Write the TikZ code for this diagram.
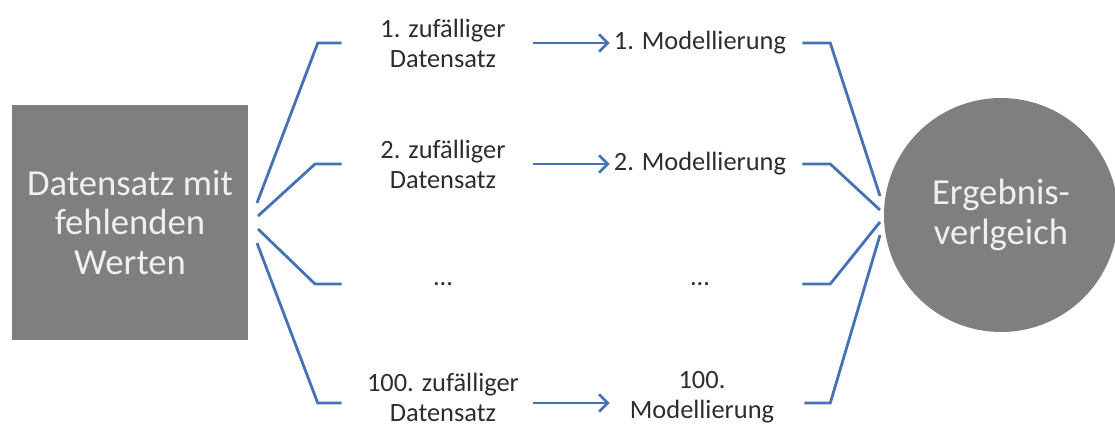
\documentclass[tikz,border=0pt]{standalone}
\usepackage{fontspec}
\setmainfont{Carlito}
\usetikzlibrary{arrows.meta}

\definecolor{boxgray}{RGB}{127,127,127}
\definecolor{linkblue}{RGB}{68,114,180}
\definecolor{textgray}{RGB}{45,45,45}

\tikzset{
  link/.style={linkblue, line width=2.1pt},
  flow/.style={link, -{Straight Barb[length=6.5pt,width=13pt,line width=2.1pt]}},
  set/.style={text=textgray, font=\fontsize{19.8}{22.5}\selectfont, align=center,
    inner sep=0pt, minimum width=151.5pt},
  model/.style={set, minimum width=153pt},
  big/.style={text=white!94!black, font=\fontsize{27.5}{29.5}\selectfont, align=center,
    fill=boxgray, inner sep=0pt},
}

\begin{document}
\begin{tikzpicture}[x=0.75pt,y=0.75pt,yscale=-1,xscale=1]
\useasboundingbox (0,0) rectangle (1115,428);

% start and end shapes
\node (data) [big, minimum width=177pt, minimum height=176pt] at (130,222.5)
  {Datensatz mit\\fehlenden\\Werten};
\node (cmp) [big, circle, minimum size=175.5pt] at (1001,215)
  {Ergebnis-\\verlgeich};

% random data sets
\node (d1) [set] at (443,43) {1. zufälliger\\Datensatz};
\node (d2) [set] at (443,164) {2. zufälliger\\Datensatz};
\node (d3) [set] at (443,284) {...};
\node (d4) [set] at (443,397) {100. zufälliger\\Datensatz};

% models
\node (m1) [model] at (700,43) {1. Modellierung};
\node (m2) [model] at (700,164) {2. Modellierung};
\node (m3) [model] at (700,284) {...};
\node (m4) [model] at (702,397) {100.\\Modellierung};

% free ends at the two shapes
\coordinate (L1) at (257,203);
\coordinate (L2) at (258,216);
\coordinate (L3) at (258,229);
\coordinate (L4) at (257,243);
\coordinate (R1) at (880,196);
\coordinate (R2) at (880,210);
\coordinate (R3) at (880,222);
\coordinate (R4) at (880,235);

\draw [link] (L1) -- ([xshift=-18pt]d1.west) -- (d1.west);
\draw [link] (L2) -- ([xshift=-20pt]d2.west) -- (d2.west);
\draw [link] (L3) -- ([xshift=-20pt]d3.west) -- (d3.west);
\draw [link] (L4) -- ([xshift=-18pt,yshift=4.5pt]d4.west) -- ([yshift=4.5pt]d4.west);

\draw [flow] ([xshift=-8.25pt]d1.east) -- ([xshift=9pt]m1.west);
\draw [flow] ([xshift=-8.25pt]d2.east) -- ([xshift=9pt]m2.west);
\draw [flow] ([xshift=-8.25pt,yshift=4.5pt]d4.east) -- ([xshift=7.5pt,yshift=4.5pt]m4.west);

\draw [link] (m1.east) -- ([xshift=21pt]m1.east) -- (R1);
\draw [link] (m2.east) -- ([xshift=21pt]m2.east) -- (R2);
\draw [link] (m3.east) -- ([xshift=21pt]m3.east) -- (R3);
\draw [link] ([yshift=4.5pt]m4.east) -- ([xshift=19.5pt,yshift=4.5pt]m4.east) -- (R4);
\end{tikzpicture}
\end{document}
